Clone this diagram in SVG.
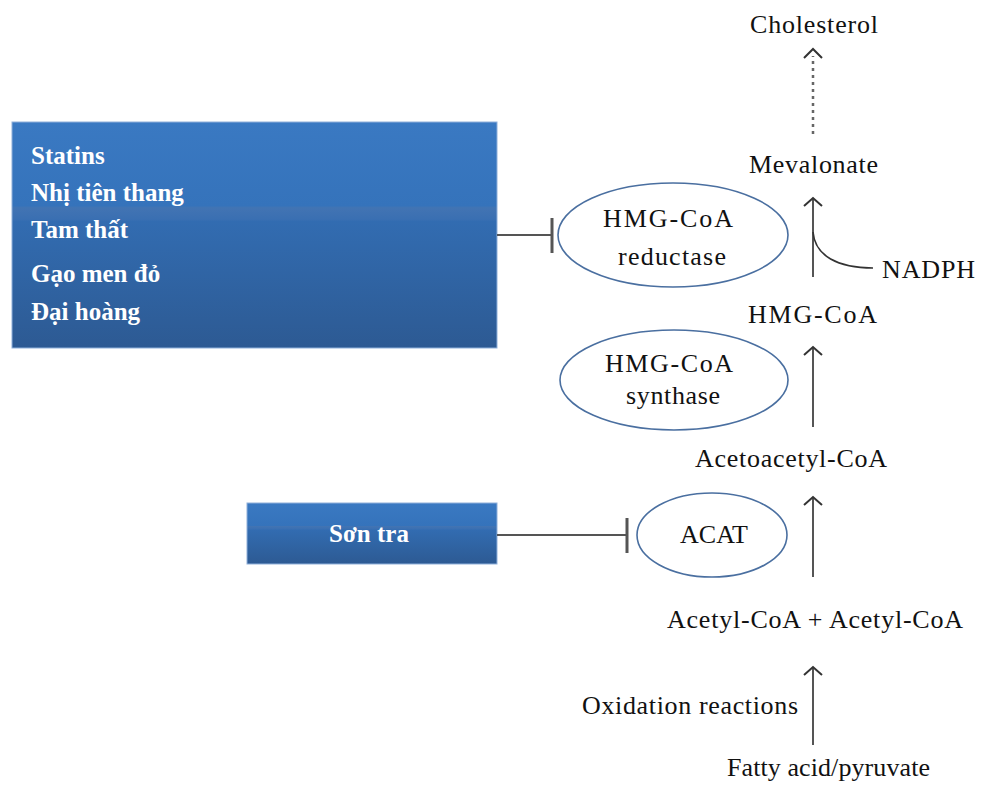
<svg xmlns="http://www.w3.org/2000/svg" width="982" height="785" viewBox="0 0 982 785">
  <defs>
    <linearGradient id="boxFill" x1="0" y1="0" x2="0" y2="1">
      <stop offset="0" stop-color="#3a79c2"/>
      <stop offset="0.37" stop-color="#3573bb"/>
      <stop offset="0.38" stop-color="#4274b3"/>
      <stop offset="0.43" stop-color="#3a6fb2"/>
      <stop offset="0.44" stop-color="#326cb1"/>
      <stop offset="1" stop-color="#2d5a93"/>
    </linearGradient>
    <marker id="head" markerUnits="userSpaceOnUse" markerWidth="20" markerHeight="24" viewBox="-10 -12 12 24" refX="0" refY="0" orient="auto">
      <path d="M-8,-9 L0,0 L-8,9" fill="none" stroke="#333" stroke-width="2"/>
    </marker>
    <style>
      .box { fill: url(#boxFill); stroke: #8fb0da; stroke-width: 1; }
      .boxtxt { font-family: "Liberation Serif", "DejaVu Serif", serif; font-weight: bold; font-size: 25px; fill: #ffffff; }
      .lbl { font-family: "Liberation Serif", "DejaVu Serif", serif; font-size: 26px; fill: #111111; }
      .enz { fill: #ffffff; stroke: #4a6fa0; stroke-width: 1.6; }
      .step { stroke: #555555; stroke-width: 2; fill: none; marker-end: url(#head); }
      .dots { stroke: #666666; stroke-width: 2.5; stroke-dasharray: 3 4; fill: none; }
      .inhib { stroke: #555555; stroke-width: 2; fill: none; }
      .bar { stroke: #555555; stroke-width: 3; }
    </style>
  </defs>

  <!-- inhibitor boxes -->
  <g id="herbs-statins">
    <rect class="box" x="12" y="122" width="485" height="226"/>
    <text class="boxtxt" x="31" y="164">Statins</text>
    <text class="boxtxt" x="31" y="201">Nhị tiên thang</text>
    <text class="boxtxt" x="31" y="238">Tam thất</text>
    <text class="boxtxt" x="31" y="282">Gạo men đỏ</text>
    <text class="boxtxt" x="31" y="320">Đại hoàng</text>
  </g>
  <g id="son-tra">
    <rect class="box" x="247" y="503" width="250" height="61"/>
    <text class="boxtxt" x="369" y="542" text-anchor="middle">Sơn tra</text>
  </g>

  <!-- enzymes -->
  <g id="hmgcoa-reductase">
    <ellipse class="enz" cx="673" cy="235" rx="115" ry="52"/>
    <text class="lbl" x="668" y="227" text-anchor="middle" textLength="130" lengthAdjust="spacing">HMG-CoA</text>
    <text class="lbl" x="672" y="265" text-anchor="middle" textLength="108" lengthAdjust="spacing">reductase</text>
  </g>
  <g id="hmgcoa-synthase">
    <ellipse class="enz" cx="674" cy="380" rx="114" ry="50"/>
    <text class="lbl" x="669" y="372" text-anchor="middle" textLength="128" lengthAdjust="spacing">HMG-CoA</text>
    <text class="lbl" x="673" y="404" text-anchor="middle" textLength="94" lengthAdjust="spacing">synthase</text>
  </g>
  <g id="acat">
    <ellipse class="enz" cx="712" cy="535" rx="75" ry="42"/>
    <text class="lbl" x="714" y="543" text-anchor="middle" textLength="68" lengthAdjust="spacing">ACAT</text>
  </g>

  <!-- metabolites -->
  <g id="cholesterol">
    <text class="lbl" x="750" y="33" textLength="128" lengthAdjust="spacing">Cholesterol</text>
  </g>
  <g id="mevalonate">
    <text class="lbl" x="749" y="173" textLength="129" lengthAdjust="spacing">Mevalonate</text>
  </g>
  <g id="nadph">
    <text class="lbl" x="882" y="278" textLength="93" lengthAdjust="spacing">NADPH</text>
  </g>
  <g id="hmgcoa">
    <text class="lbl" x="748" y="323" textLength="129" lengthAdjust="spacing">HMG-CoA</text>
  </g>
  <g id="acetoacetyl-coa">
    <text class="lbl" x="695" y="467" textLength="192" lengthAdjust="spacing">Acetoacetyl-CoA</text>
  </g>
  <g id="acetyl-coa">
    <text class="lbl" x="667" y="628" textLength="296" lengthAdjust="spacing">Acetyl-CoA + Acetyl-CoA</text>
  </g>
  <g id="oxidation">
    <text class="lbl" x="582" y="714" textLength="216" lengthAdjust="spacing">Oxidation reactions</text>
  </g>
  <g id="fatty-acid">
    <text class="lbl" x="727" y="776" textLength="203" lengthAdjust="spacing">Fatty acid/pyruvate</text>
  </g>

  <!-- connectors -->
  <g id="connectors">
    <line class="dots" x1="813" y1="134" x2="813" y2="56"/>
    <path d="M804,58 L813,49 L822,58" fill="none" stroke="#333" stroke-width="2"/>
    <line class="step" x1="813" y1="277" x2="813" y2="198"/>
    <path d="M813,232 C815,256 838,268 873,268" fill="none" stroke="#333" stroke-width="1.6"/>
    <line class="step" x1="813" y1="427" x2="813" y2="347"/>
    <line class="step" x1="813" y1="577" x2="813" y2="497"/>
    <line class="step" x1="813" y1="745" x2="813" y2="667"/>
    <line class="inhib" x1="497" y1="235" x2="552" y2="235"/>
    <line class="bar" x1="552" y1="218" x2="552" y2="253"/>
    <line class="inhib" x1="497" y1="535" x2="627" y2="535"/>
    <line class="bar" x1="627" y1="518" x2="627" y2="553"/>
  </g>
</svg>
